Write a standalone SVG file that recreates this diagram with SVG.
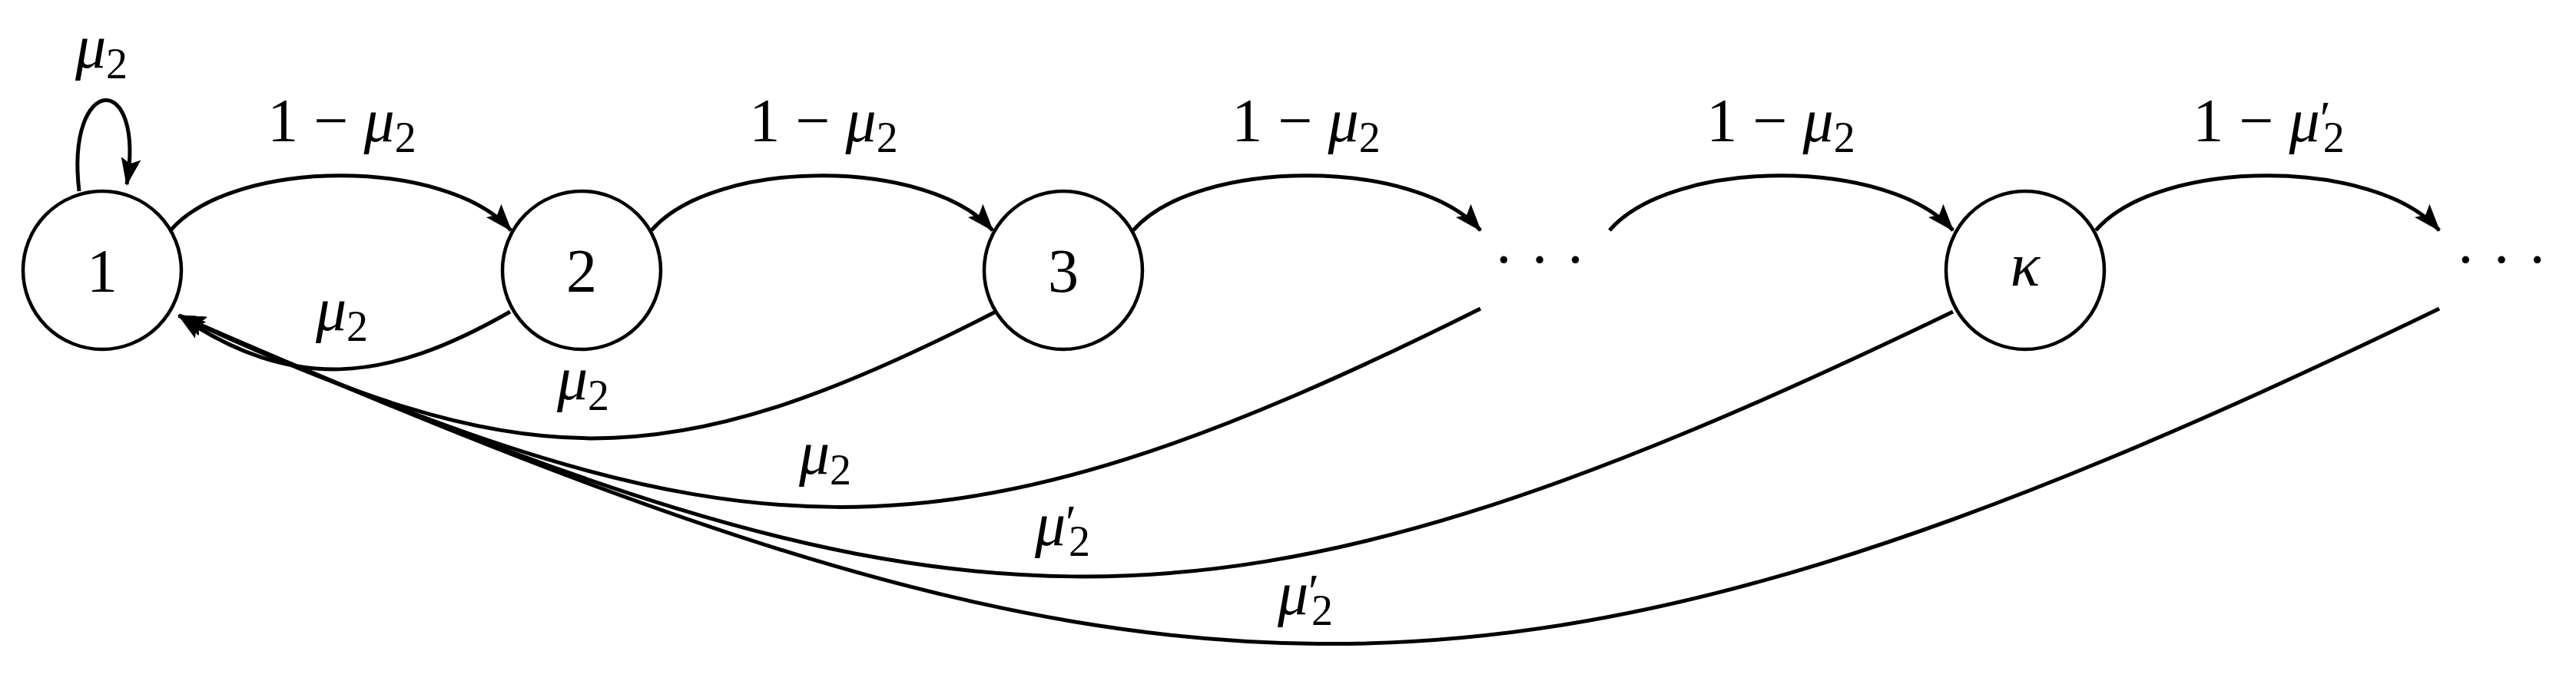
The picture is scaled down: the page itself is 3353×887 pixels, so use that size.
<svg xmlns="http://www.w3.org/2000/svg" width="3353" height="887" viewBox="0 0 3353 887">
<style>
.n{fill:#fff;stroke:#000;stroke-width:4.5}
.e{fill:none;stroke:#000;stroke-width:5}
text{font-family:"Liberation Serif","DejaVu Serif",serif;font-size:80px;fill:#000;text-anchor:middle}
.i{font-style:italic}
.s{font-size:56px}
.p{font-size:64px}
</style>
<defs>
<marker id="a" markerUnits="userSpaceOnUse" markerWidth="36" markerHeight="26" refX="34" refY="13" orient="auto"><path d="M0,0 L36,13 L0,26 L7,13 Z" fill="#000"/></marker>
</defs>
<g id="edges">
<path class="e" marker-end="url(#a)" d="M103,249 C85,95 190,90 165,240"/>
<path class="e" marker-end="url(#a)" d="M222,300 C305,205 582,205 665,300"/>
<path class="e" marker-end="url(#a)" d="M848,300 C931,205 1209,205 1292,300"/>
<path class="e" marker-end="url(#a)" d="M1475,300 C1558,205 1844,205 1927,300"/>
<path class="e" marker-end="url(#a)" d="M2095,300 C2178,205 2459,205 2542,300"/>
<path class="e" marker-end="url(#a)" d="M2728,300 C2811,205 3092,205 3175,300"/>
<path class="e" marker-end="url(#a)" d="M664,406 C500,500 380,510 233,411"/>
<path class="e" marker-end="url(#a)" d="M1296,406 C860,630 680,620 233,411"/>
<path class="e" marker-end="url(#a)" d="M1927,402 C1220,755 960,735 233,411"/>
<path class="e" marker-end="url(#a)" d="M2542,406 C1560,880 1240,850 233,411"/>
<path class="e" marker-end="url(#a)" d="M3175,402 C1940,1000 1500,965 233,411"/>
</g>
<g id="n1"><circle class="n" cx="133" cy="352" r="103"/><text x="133" y="380">1</text></g>
<g id="n2"><circle class="n" cx="757" cy="352" r="103"/><text x="757" y="380">2</text></g>
<g id="n3"><circle class="n" cx="1384" cy="352" r="103"/><text x="1384" y="380">3</text></g>
<g id="d1"><text x="2004" y="365">· · ·</text></g>
<g id="nk"><circle class="n" cx="2636" cy="352" r="103"/><text class="i" x="2636" y="372">κ</text></g>
<g id="d2"><text x="3256" y="365">· · ·</text></g>
<g id="labels">
<text x="132" y="88"><tspan class="i">μ</tspan><tspan class="s" dy="14">2</tspan></text>
<text x="445" y="184">1 − <tspan class="i">μ</tspan><tspan class="s" dy="14">2</tspan></text>
<text x="1072" y="184">1 − <tspan class="i">μ</tspan><tspan class="s" dy="14">2</tspan></text>
<text x="1700" y="184">1 − <tspan class="i">μ</tspan><tspan class="s" dy="14">2</tspan></text>
<text x="2318" y="184">1 − <tspan class="i">μ</tspan><tspan class="s" dy="14">2</tspan></text>
<text x="2953" y="184">1 − <tspan class="i">μ</tspan><tspan class="p" dy="-8">′</tspan><tspan class="s" dx="-10" dy="22">2</tspan></text>
<text x="445" y="430"><tspan class="i">μ</tspan><tspan class="s" dy="14">2</tspan></text>
<text x="759" y="520"><tspan class="i">μ</tspan><tspan class="s" dy="14">2</tspan></text>
<text x="1074" y="617"><tspan class="i">μ</tspan><tspan class="s" dy="14">2</tspan></text>
<text x="1383" y="710"><tspan class="i">μ</tspan><tspan class="p" dy="-8">′</tspan><tspan class="s" dx="-10" dy="22">2</tspan></text>
<text x="1699" y="800"><tspan class="i">μ</tspan><tspan class="p" dy="-8">′</tspan><tspan class="s" dx="-10" dy="22">2</tspan></text>
</g>
</svg>
